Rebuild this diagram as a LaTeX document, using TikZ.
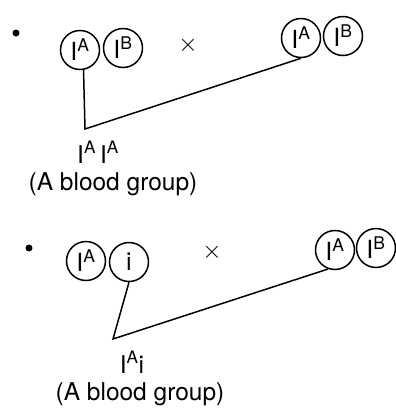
\documentclass[tikz,border=0pt]{standalone}
\usepackage{fontspec}
\setmainfont{TeX Gyre Heros}
\tikzset{
    allele/.style={draw, circle, line width=1.5pt, minimum size=39pt, inner sep=0pt, font=\fontsize{25}{28}\selectfont},
    label/.style={font=\fontsize{24.5}{28}\selectfont, inner sep=0pt, anchor=base},
    genotype/.style={label, text depth=0pt},
    cross/.style={font=\fontsize{28}{30}\selectfont, inner sep=0pt},
    link/.style={line width=1.5pt}
}
\newcommand{\IA}{I\textsuperscript{A}}
\newcommand{\IB}{I\textsuperscript{B}}
\begin{document}
\begin{tikzpicture}[x=1pt, y=-1pt]
    \useasboundingbox (0, 0) rectangle (396, 408);

    % First cross
    \fill (16, 33) circle (3.5);
    \node[allele] (a1) at (80, 50) {\IA};
    \node[allele] (b1) at (123, 48) {\IB};
    \node[cross] (x1) at (188, 45) {$\times$};
    \node[allele] (c1) at (301, 38) {\IA};
    \node[allele] (d1) at (343, 36) {\IB};
    \coordinate (k1) at (85, 129);
    \draw[link] (a1.-80) -- (k1) -- (c1.south);
    \node[genotype] (g1) at (98, 163) {\IA\,\IA};
    \node[label] (p1) at (113, 190) {(A blood group)};

    % Second cross
    \fill (29, 248) circle (3.5);
    \node[allele] (a2) at (86, 261) {\IA};
    \node[allele] (b2) at (129, 262) {i};
    \node[cross] (x2) at (212, 252) {$\times$};
    \node[allele] (c2) at (335, 250) {\IA};
    \node[allele] (d2) at (376, 248) {\IB};
    \coordinate (k2) at (113, 339);
    \draw[link] (b2.south) -- (k2) -- (c2.-110);
    \node[genotype] (g2) at (132, 373) {\IA i};
    \node[label] (p2) at (140, 400) {(A blood group)};
\end{tikzpicture}
\end{document}
